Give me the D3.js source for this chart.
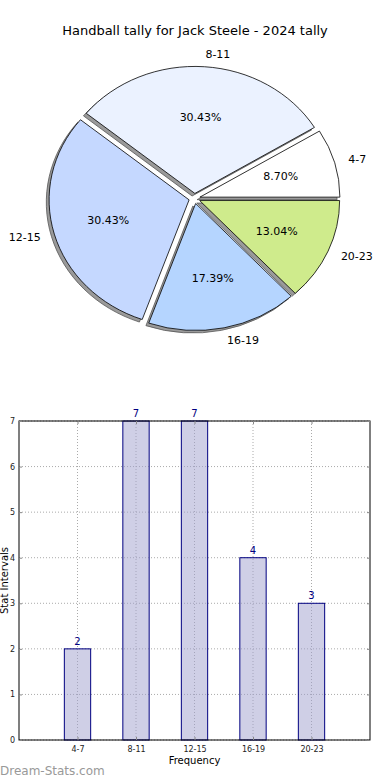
<!DOCTYPE html>
<html>
<head>
<meta charset="utf-8">
<script src="https://cdn.jsdelivr.net/npm/d3@7"></script>
<style>
  body { margin: 0; background: #fff; }
  svg { display: block; font-family: "DejaVu Sans", sans-serif; }
</style>
</head>
<body>
<div id="chart"></div>
<script>
const categories = ['4-7', '8-11', '12-15', '16-19', '20-23'];
const tally = [2, 7, 7, 4, 3];
const sliceColors = ['#ffffff', '#ebf2ff', '#c5d8ff', '#b5d5ff', '#cfeb8c'];
const yTicks = [0, 1, 2, 3, 4, 5, 6, 7];

const width = 390, height = 780;

const svg = d3.select('#chart')
    .append('svg')
    .attr('width', width)
    .attr('height', height);

svg.append('text')
    .attr('x', 195)
    .attr('y', 35)
    .attr('text-anchor', 'middle')
    .attr('font-size', 13)
    .text('Handball tally for Jack Steele - 2024 tally');

// pie (matplotlib style: start at 3 o'clock, counter-clockwise, stretched axes)
const cx = 194.5, cy = 198.5, rx = 140, ry = 127;
const explode = 0.04, shadowOff = 0.02;
const total = d3.sum(tally);

const pie = d3.pie().sort(null).startAngle(0).endAngle(2 * Math.PI);
const slices = pie(tally).map((d, i) => {
  // d3 angles go clockwise from 12 o'clock; turn them into matplotlib ones
  const t0 = d.startAngle, t1 = d.endAngle;
  const mid = (t0 + t1) / 2;
  return {
    i, value: d.value,
    a0: Math.PI / 2 - t0, a1: Math.PI / 2 - t1,
    ux: Math.cos(mid), uy: -Math.sin(mid)
  };
});

const arc = d3.arc().innerRadius(0).outerRadius(1)
    .startAngle(d => d.a0).endAngle(d => d.a1);

const pieG = svg.append('g');

// shadows
pieG.selectAll('.shadow')
    .data(slices)
    .join('path')
    .attr('class', 'shadow')
    .attr('transform', d => `translate(${cx + (d.ux * explode - shadowOff) * rx},${cy + (d.uy * explode + shadowOff) * ry}) scale(${rx},${ry})`)
    .attr('d', arc)
    .attr('fill', '#9a9a9a')
    .attr('stroke', '#555')
    .attr('stroke-width', 0.8)
    .attr('vector-effect', 'non-scaling-stroke');

pieG.selectAll('.slice')
    .data(slices)
    .join('path')
    .attr('class', 'slice')
    .attr('transform', d => `translate(${cx + d.ux * explode * rx},${cy + d.uy * explode * ry}) scale(${rx},${ry})`)
    .attr('d', arc)
    .attr('fill', d => sliceColors[d.i])
    .attr('stroke', '#000')
    .attr('stroke-width', 0.8)
    .attr('vector-effect', 'non-scaling-stroke');

// outer labels
pieG.selectAll('.plabel')
    .data(slices)
    .join('text')
    .attr('class', 'plabel')
    .attr('x', d => cx + d.ux * (explode + 1.1) * rx)
    .attr('y', d => cy + d.uy * (explode + 1.1) * ry)
    .attr('dy', '0.35em')
    .attr('text-anchor', d => d.ux > 0 ? 'start' : 'end')
    .attr('font-size', 11)
    .text(d => categories[d.i]);

// percentages
pieG.selectAll('.pct')
    .data(slices)
    .join('text')
    .attr('class', 'pct')
    .attr('x', d => cx + d.ux * (explode + 0.6) * rx)
    .attr('y', d => cy + d.uy * (explode + 0.6) * ry)
    .attr('dy', '0.35em')
    .attr('text-anchor', 'middle')
    .attr('font-size', 11)
    .text(d => (d.value / total * 100).toFixed(2) + '%');

// bar chart
const m = {left: 19, right: 370, top: 421, bottom: 740};

const x = d3.scaleLinear().domain([-1, 5]).range([m.left, m.right]);
const y = d3.scaleLinear().domain([0, 7]).range([m.bottom, m.top]);
const barW = 0.45;

const barG = svg.append('g');

// grid
barG.selectAll('.gy')
    .data(yTicks)
    .join('line')
    .attr('x1', m.left).attr('x2', m.right)
    .attr('y1', d => y(d)).attr('y2', d => y(d))
    .attr('stroke', '#aaa')
    .attr('stroke-width', 1)
    .attr('stroke-dasharray', '1,2');

barG.selectAll('.gx')
    .data(categories)
    .join('line')
    .attr('x1', (d, i) => x(i)).attr('x2', (d, i) => x(i))
    .attr('y1', m.top).attr('y2', m.bottom)
    .attr('stroke', '#aaa')
    .attr('stroke-width', 1)
    .attr('stroke-dasharray', '1,2');

barG.selectAll('.bar')
    .data(tally)
    .join('rect')
    .attr('class', 'bar')
    .attr('x', (d, i) => x(i - barW / 2))
    .attr('width', x(barW) - x(0))
    .attr('y', d => y(d))
    .attr('height', d => y(0) - y(d))
    .attr('fill', 'rgba(160,160,205,0.5)')
    .attr('stroke', '#000080')
    .attr('stroke-width', 1);

barG.selectAll('.val')
    .data(tally)
    .join('text')
    .attr('x', (d, i) => x(i))
    .attr('y', d => y(d) - 4)
    .attr('text-anchor', 'middle')
    .attr('font-size', 10)
    .attr('fill', '#000080')
    .text(d => d);

// frame
barG.append('rect')
    .attr('x', m.left).attr('y', m.top)
    .attr('width', m.right - m.left).attr('height', m.bottom - m.top)
    .attr('fill', 'none')
    .attr('stroke', '#000')
    .attr('stroke-width', 1);

// axes, ticks inside like matplotlib classic
const yAxis = d3.axisLeft(y).tickValues(yTicks).tickFormat(d3.format('d')).tickSize(-3).tickPadding(4);
const gY = barG.append('g').attr('transform', `translate(${m.left},0)`).call(yAxis);
const yAxisR = d3.axisRight(y).tickValues(yTicks).tickSize(-3).tickFormat('');
const gYR = barG.append('g').attr('transform', `translate(${m.right},0)`).call(yAxisR);

const xAxis = d3.axisBottom(x).tickValues(d3.range(categories.length))
    .tickFormat(i => categories[i]).tickSize(-3).tickPadding(6);
const gX = barG.append('g').attr('transform', `translate(0,${m.bottom})`).call(xAxis);
const xAxisT = d3.axisTop(x).tickValues(d3.range(categories.length)).tickSize(-3).tickFormat('');
const gXT = barG.append('g').attr('transform', `translate(0,${m.top})`).call(xAxisT);

[gY, gYR, gX, gXT].forEach(g => {
  g.select('.domain').remove();
  g.selectAll('.tick line').attr('stroke', '#888');
  g.selectAll('.tick text').attr('font-size', 8).attr('fill', '#222')
      .attr('font-family', '"DejaVu Sans", sans-serif');
});

svg.append('text')
    .attr('x', x(2))
    .attr('y', 764)
    .attr('text-anchor', 'middle')
    .attr('font-size', 10)
    .text('Frequency');

svg.append('text')
    .attr('transform', `translate(8,${(m.top + m.bottom) / 2}) rotate(-90)`)
    .attr('text-anchor', 'middle')
    .attr('font-size', 10)
    .text('Stat Intervals');

svg.append('text')
    .attr('x', 0)
    .attr('y', 775)
    .attr('font-size', 12)
    .attr('fill', '#999')
    .text('Dream-Stats.com');
</script>
</body>
</html>
